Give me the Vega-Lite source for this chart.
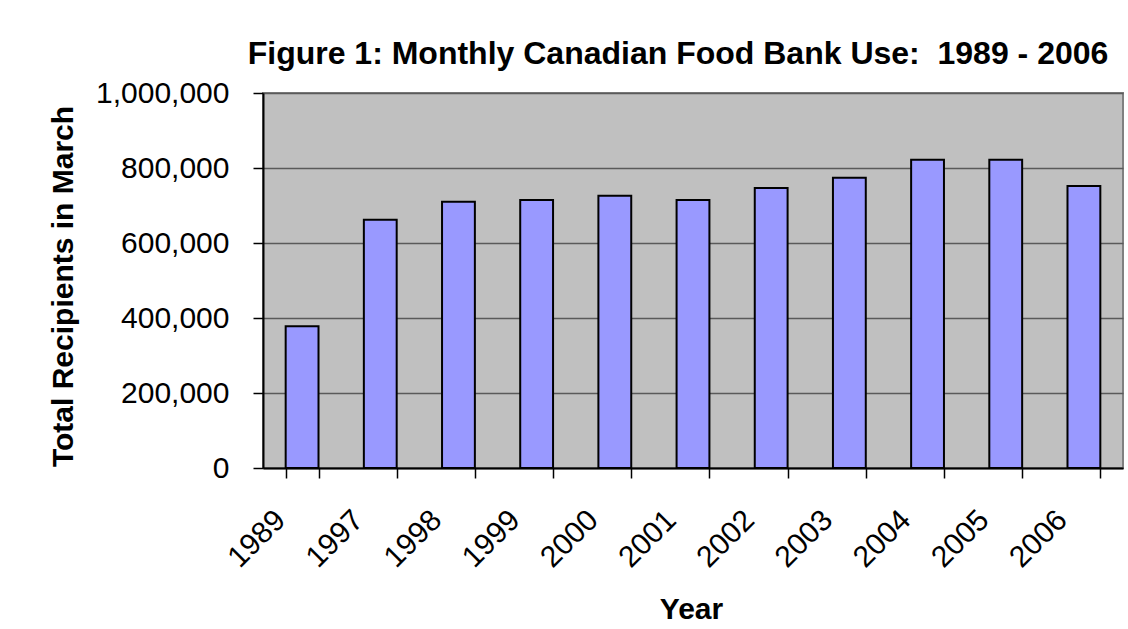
{
  "$schema": "https://vega.github.io/schema/vega-lite/v6.json",
  "autosize": {"type": "none"},
  "width": 860,
  "height": 375,
  "padding": {"left": 263, "top": 93, "right": 5, "bottom": 161},
  "background": "white",
  "config": {
    "font": "Liberation Sans",
    "view": {"fill": "#C0C0C0", "stroke": "#808080", "strokeWidth": 2}
  },
  "title": {
    "text": "Figure 1: Monthly Canadian Food Bank Use:\u00a0\u00a01989 - 2006",
    "font": "Liberation Sans",
    "fontSize": 32,
    "fontWeight": "bold",
    "color": "black",
    "anchor": "middle",
    "frame": "group",
    "dx": -15,
    "dy": 47,
    "baseline": "alphabetic",
    "offset": 29
  },
  "data": {
    "values": [
      {"Year": "1989", "Recipients": 378000},
      {"Year": "1997", "Recipients": 662000},
      {"Year": "1998", "Recipients": 710000},
      {"Year": "1999", "Recipients": 715000},
      {"Year": "2000", "Recipients": 726000},
      {"Year": "2001", "Recipients": 715000},
      {"Year": "2002", "Recipients": 747000},
      {"Year": "2003", "Recipients": 774000},
      {"Year": "2004", "Recipients": 822000},
      {"Year": "2005", "Recipients": 822000},
      {"Year": "2006", "Recipients": 752000}
    ]
  },
  "mark": {"type": "bar", "fill": "#9999FF", "stroke": "black", "strokeWidth": 2, "opacity": 1},
  "encoding": {
    "x": {
      "field": "Year",
      "type": "nominal",
      "sort": null,
      "scale": {"paddingInner": 0.58, "paddingOuter": 0.29},
      "axis": {
        "title": "Year",
        "titleFont": "Liberation Sans",
        "titleFontSize": 30,
        "titleFontWeight": "bold",
        "titleColor": "black",
        "titleX": 428,
        "titleY": 150,
        "titleBaseline": "alphabetic",
        "titleAnchor": "middle",
        "labelFont": "Liberation Sans",
        "labelFontSize": 30,
        "labelColor": "black",
        "labelAngle": -45,
        "labelAlign": "right",
        "labelBaseline": "middle",
        "labelOffset": -22,
        "labelPadding": 37,
        "tickBand": "extent",
        "tickSize": 10,
        "tickColor": "black",
        "tickWidth": 1.5,
        "domainColor": "black",
        "domainWidth": 2,
        "grid": false
      }
    },
    "y": {
      "field": "Recipients",
      "type": "quantitative",
      "scale": {"domain": [0, 1000000], "nice": false},
      "axis": {
        "title": "Total Recipients in March",
        "titleFont": "Liberation Sans",
        "titleFontSize": 30,
        "titleFontWeight": "bold",
        "titleColor": "black",
        "titleX": -191,
        "titleY": 193,
        "titleBaseline": "alphabetic",
        "titleAngle": -90,
        "titleAnchor": "middle",
        "values": [0, 200000, 400000, 600000, 800000, 1000000],
        "format": ",d",
        "labelFont": "Liberation Sans",
        "labelFontSize": 30,
        "labelColor": "black",
        "labelPadding": 24,
        "tickSize": 10,
        "tickColor": "black",
        "tickWidth": 1.5,
        "domainColor": "black",
        "domainWidth": 2,
        "grid": true,
        "gridColor": "#5A5A5A",
        "gridWidth": 1.5
      }
    }
  }
}
